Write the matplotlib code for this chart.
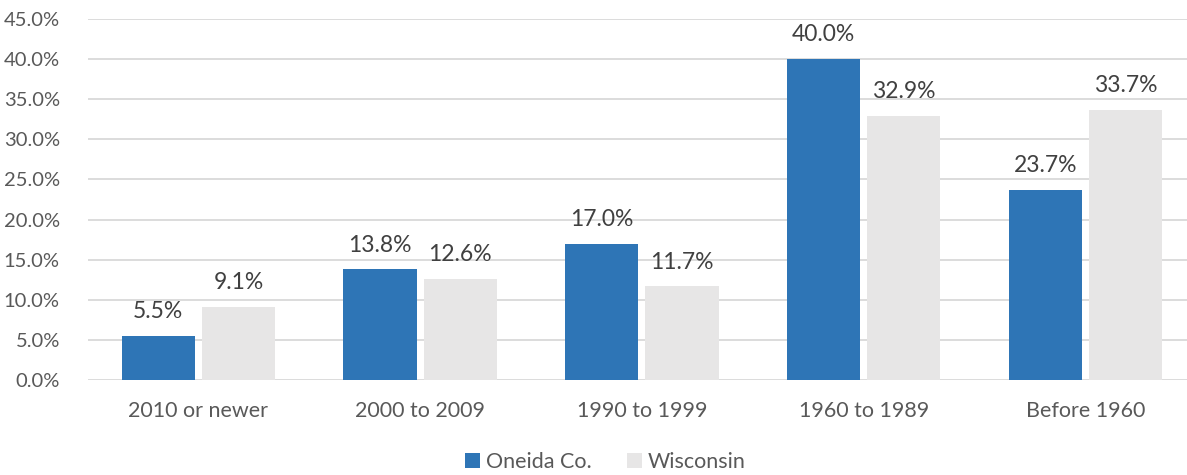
import matplotlib
matplotlib.use("Agg")
import matplotlib.pyplot as plt
import numpy as np

categories = ["2010 or newer", "2000 to 2009", "1990 to 1999", "1960 to 1989", "Before 1960"]
oneida = [5.5, 13.8, 17.0, 40.0, 23.7]
wisconsin = [9.1, 12.6, 11.7, 32.9, 33.7]
series_names = ["Oneida Co.", "Wisconsin"]
yticks = [0, 5, 10, 15, 20, 25, 30, 35, 40, 45]

plt.rcParams['font.family'] = ['Lato', 'DejaVu Sans']

fig = plt.figure(figsize=(11.87, 4.75), dpi=100)
ax = fig.add_axes([0.0738, 0.2, 0.934, 0.76])

x = np.arange(len(categories))
w = 0.33
gap = 0.032
blue = "#2E75B6"
gray = "#E7E6E6"
b1 = ax.bar(x - (w + gap) / 2, oneida, w, color=blue, label=series_names[0], zorder=3)
b2 = ax.bar(x + (w + gap) / 2, wisconsin, w, color=gray, label=series_names[1], zorder=3)

for bars, vals in ((b1, oneida), (b2, wisconsin)):
    for r, v in zip(bars, vals):
        ax.text(r.get_x() + r.get_width() / 2, v + 1.7, f"{v:.1f}%", ha="center", va="bottom",
                fontsize=16.5, color="#404040")

ax.set_ylim(0, 45)
ax.set_xlim(-0.5, len(categories) - 0.5)
ax.set_yticks(yticks)
ax.set_yticklabels([f"{t:.1f}%" for t in yticks])
ax.set_xticks(x)
ax.set_xticklabels(categories)
ax.tick_params(axis='both', length=0, colors="#595959")
ax.tick_params(axis='y', pad=20, labelsize=14.5)
ax.tick_params(axis='x', pad=15, labelsize=15.5)
ax.grid(axis='y', color="#D9D9D9", linewidth=1.3, zorder=0)
for s in ax.spines.values():
    s.set_visible(False)

leg = fig.legend(handles=[b1, b2], labels=series_names, loc="center", bbox_to_anchor=(0.51, 0.028),
                 ncol=2, frameon=False, fontsize=15.5, handlelength=0.7, handleheight=0.7,
                 handletextpad=0.3, columnspacing=1.6, labelcolor="#595959")

fig.savefig("out.png", dpi=100)
